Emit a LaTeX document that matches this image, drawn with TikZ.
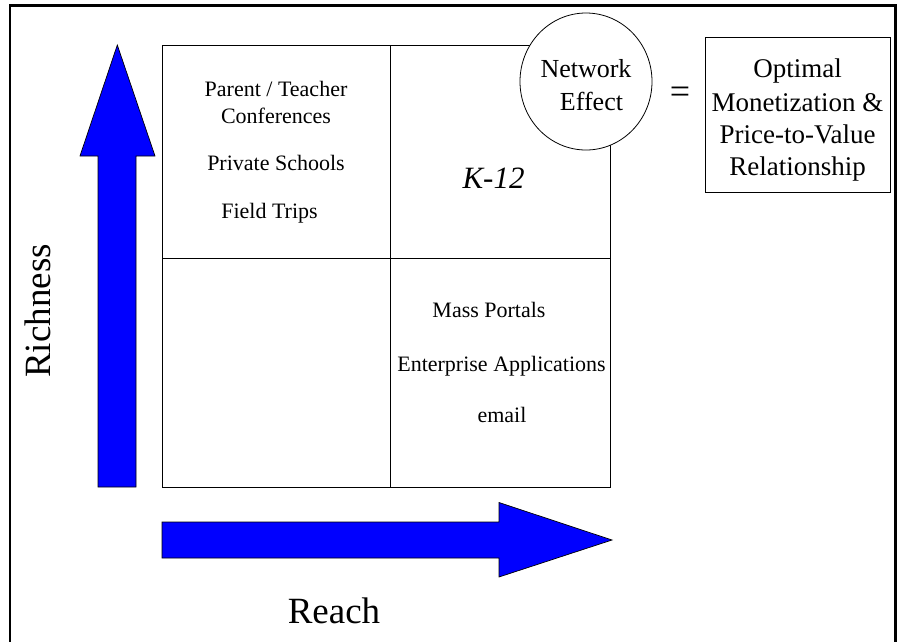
\documentclass[tikz,border=0pt]{standalone}
\usepackage{fontspec}
\setmainfont{Liberation Serif}
\usetikzlibrary{shapes.geometric}
\begin{document}
\begin{tikzpicture}[x=1pt,y=-1pt,
  axisarrow/.style={draw=black, line width=0.7pt, fill=blue},
  gridline/.style={draw=black, line width=0.9pt},
  txt/.style={inner sep=0pt, anchor=base},
  celltext/.style={txt, font=\fontsize{22}{27}\selectfont},
  bigtext/.style={txt, font=\fontsize{37}{44}\selectfont},
  nettext/.style={txt, font=\fontsize{26}{33}\selectfont},
  goaltext/.style={txt, font=\fontsize{27}{33}\selectfont}]
\useasboundingbox (0,0) rectangle (897,641);

% outer frame (its bottom edge lies below the page)
\draw[line width=2.6pt] (10,650) -- (10,5.3) -- (895.6,5.3) -- (895.6,650);

% quadrant grid
\draw[gridline] (162,45) rectangle (610,487);
\draw[gridline] (390,45) -- (390,487);
\draw[gridline] (162,258) -- (610,258);

% axis arrows
\draw[axisarrow] (98,487) -- (98,156) -- (80,156) -- (117.3,45) -- (155,156) -- (136,156) -- (136,487) -- cycle;
\draw[axisarrow] (162,522) -- (499,522) -- (499,502.5) -- (612,540) -- (499,577) -- (499,558) -- (162,558) -- cycle;

% axis labels
\node[bigtext, rotate=90] (richness) at (50,311) {Richness};
\node[bigtext] (reach) at (334,623) {Reach};

% top-left cell
\node[celltext] (ptc1) at (276,96) {Parent / Teacher};
\node[celltext] (ptc2) at (276,123) {Conferences};
\node[celltext] (priv) at (276,170) {Private Schools};
\node[celltext] (trips) at (269.5,218) {Field Trips};

% top-right cell
\node[txt, font=\fontsize{31}{36}\selectfont\itshape] (k12) at (493.5,188) {K-12};

% bottom-right cell
\node[celltext] (mass) at (489,317) {Mass Portals};
\node[celltext] (ent) at (501.5,371) {Enterprise Applications};
\node[celltext] (mail) at (502,422) {email};

% network effect circle
\node[draw=black, line width=0.8pt, fill=white, ellipse, minimum width=132pt, minimum height=137pt, inner sep=0pt] (net) at (586,81.5) {};
\node[nettext] (net1) at (586,77) {Network};
\node[nettext] (net2) at (591.5,110) {Effect};

% equals sign
\node[txt, font=\fontsize{36}{40}\selectfont] (eq) at (680,103) {=};

% result box
\node[draw=black, line width=0.8pt, minimum width=185pt, minimum height=155pt, inner sep=0pt] (goal) at (797.5,114.5) {};
\node[goaltext] (g1) at (797.5,77) {Optimal};
\node[goaltext] (g2) at (797.5,111) {Monetization \&};
\node[goaltext] (g3) at (797.5,143) {Price-to-Value};
\node[goaltext] (g4) at (797.5,175) {Relationship};
\end{tikzpicture}
\end{document}
